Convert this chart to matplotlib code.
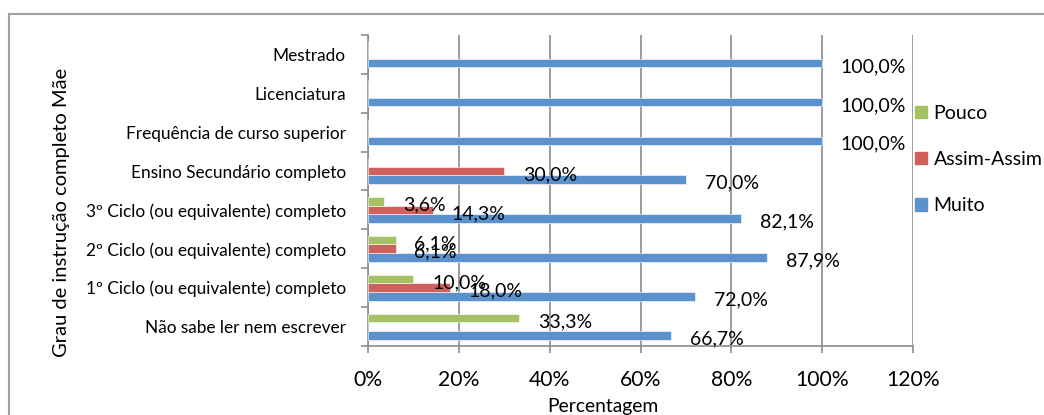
import matplotlib
matplotlib.use('Agg')
import matplotlib.pyplot as plt
from matplotlib.patches import Rectangle, Patch
from matplotlib.ticker import FuncFormatter, FixedLocator

plt.rcParams['font.family'] = ['Lato', 'DejaVu Sans']

# data (bottom to top)
categories = ['Não sabe ler nem escrever',
              '1º Ciclo (ou equivalente) completo',
              '2º Ciclo (ou equivalente) completo',
              '3º Ciclo (ou equivalente) completo',
              'Ensino Secundário completo',
              'Frequência de curso superior',
              'Licenciatura',
              'Mestrado']
muito = [66.7, 72.0, 87.9, 82.1, 70.0, 100.0, 100.0, 100.0]
assim = [0, 18.0, 6.1, 14.3, 30.0, 0, 0, 0]
pouco = [33.3, 10.0, 6.1, 3.6, 0, 0, 0, 0]
series_names = ['Muito', 'Assim-Assim', 'Pouco']
xticks = [0, 20, 40, 60, 80, 100, 120]

colors = {'Muito': '#5B92CD', 'Assim-Assim': '#CF605B', 'Pouco': '#A4C263'}
grid_col = '#8C8C8C'

fig = plt.figure(figsize=(10.44, 4.15), dpi=100)
ax = fig.add_axes([368/1044, 1-346/415, (913-368)/1044, (346-35)/415])

# outer chart border
fig.patches.append(Rectangle((9/1044, -0.1), 1.2, 1-14/415+0.1, transform=fig.transFigure,
                             fill=False, edgecolor='#A0A0A0', linewidth=1.5, zorder=0))

h = 0.222
ypos = list(range(len(categories)))
for vals, name, off in [(muito, 'Muito', -h), (assim, 'Assim-Assim', 0), (pouco, 'Pouco', h)]:
    ys = [y + off for y in ypos]
    ax.barh(ys, vals, height=h, color=colors[name], edgecolor='white', linewidth=0.4, zorder=3)
    for y, v in zip(ys, vals):
        if v > 0:
            ax.annotate(f'{v:.1f}%'.replace('.', ','), (v, y), xytext=(13.5, -2.5),
                        textcoords='offset points', ha='left', va='center',
                        fontsize=14, color='black', zorder=5)

ax.set_xlim(0, 120)
ax.set_ylim(-0.5, len(categories) - 0.5)
ax.set_xticks(xticks)
ax.xaxis.set_major_formatter(FuncFormatter(lambda x, p: f'{int(x)}%'))
ax.set_yticks(ypos)
ax.set_yticklabels(categories, fontsize=12.4)
ax.yaxis.set_minor_locator(FixedLocator([i - 0.5 for i in range(len(categories) + 1)]))
ax.tick_params(axis='y', which='major', length=0, pad=16)
ax.tick_params(axis='y', which='minor', length=5, width=1.2, color=grid_col, direction='out')
ax.tick_params(axis='x', length=5, width=1.2, color=grid_col, direction='out', pad=12, labelsize=15.2)

ax.grid(axis='x', color=grid_col, linewidth=1.2, zorder=0)
ax.set_axisbelow(True)
for s in ['top', 'right']:
    ax.spines[s].set_visible(False)
for s in ['left', 'bottom']:
    ax.spines[s].set_color(grid_col)
    ax.spines[s].set_linewidth(1.2)

fig.text(603/1044, 1-406/415, 'Percentagem', ha='center', va='center', fontsize=13.9)
fig.text(62/1044, 1-212/415, 'Grau de instrução completo Mãe', ha='center', va='center',
         rotation=90, fontsize=14.5)

handles = [Patch(color=colors[n]) for n in ['Pouco', 'Assim-Assim', 'Muito']]
fig.legend(handles, ['Pouco', 'Assim-Assim', 'Muito'], loc='upper left',
           bbox_to_anchor=(915/1044, 1-105/415), frameon=False, fontsize=14,
           handlelength=0.6, handleheight=0.6, handletextpad=0.35, labelspacing=1.5,
           borderaxespad=0, borderpad=0)

fig.savefig('out.png', dpi=100)
